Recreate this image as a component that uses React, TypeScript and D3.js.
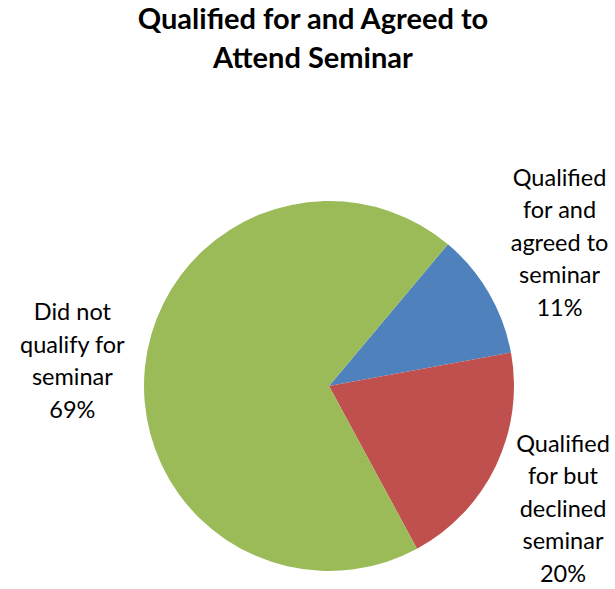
import React, { useRef, useEffect } from "react"
import * as d3 from "d3"

// chart values
const categories = [
  "Qualified for and agreed to seminar",
  "Qualified for but declined seminar",
  "Did not qualify for seminar",
]
const labelLines = [
  ["Qualified", "for and", "agreed to", "seminar"],
  ["Qualified", "for but", "declined", "seminar"],
  ["Did not", "qualify for", "seminar"],
]
const percents = [11, 20, 69]
const colors = ["#4F81BD", "#C0504D", "#9BBB59"]
const titleLines = ["Qualified for and Agreed to", "Attend Seminar"]

export default function App() {
  const svgRef = useRef<SVGSVGElement>(null)

  useEffect(() => {
    const cx = 329,
      cy = 386,
      radius = 185
    const labelRadius = 265
    const lineH = 32.5
    // small nudges of the best-fit labels
    const nudge = [[1.5, -10], [-5, 8], [7, 2]]

    const svg = d3.select(svgRef.current)
    svg.selectAll("*").remove()

    // title
    svg.append("g")
      .selectAll("text")
      .data(titleLines)
      .enter()
      .append("text")
      .attr("x", 313)
      .attr("y", (d, i) => 29 + i * 39)
      .attr("text-anchor", "middle")
      .attr("font-family", "Lato, 'Open Sans', sans-serif")
      .attr("font-weight", "bold")
      .attr("font-size", "29px")
      .attr("fill", "#000")
      .text(d => d)

    const data = categories.map((c, i) => ({ name: c, value: percents[i], i }))

    // excel starts the first slice at roughly 40 degrees
    const start = (40 / 180) * Math.PI
    const pie = d3.pie<any>()
      .value(d => d.value)
      .sort(null)
      .startAngle(start)
      .endAngle(start + 2 * Math.PI)

    const arc = d3.arc<any>().innerRadius(0).outerRadius(radius)
    const arcs = pie(data)

    const g = svg.append("g").attr("transform", "translate(" + cx + "," + cy + ")")

    g.selectAll("path")
      .data(arcs)
      .enter()
      .append("path")
      .attr("d", arc)
      .attr("fill", d => colors[d.data.i])

    // labels outside the pie
    arcs.forEach(a => {
      const mid = (a.startAngle + a.endAngle) / 2
      const lx = Math.sin(mid) * labelRadius + nudge[a.data.i][0]
      const ly = -Math.cos(mid) * labelRadius + nudge[a.data.i][1]
      const lines = labelLines[a.data.i].concat([a.data.value + "%"])
      const top = ly - ((lines.length - 1) * lineH) / 2 + 8
      const t = g.append("text")
        .attr("text-anchor", "middle")
        .attr("font-family", "Lato, 'Open Sans', sans-serif")
        .attr("font-size", "23.5px")
        .attr("fill", "#000")
      lines.forEach((ln, k) => {
        t.append("tspan")
          .attr("x", lx)
          .attr("y", top + k * lineH)
          .text(ln)
      })
    })
  }, [])

  return (
    <svg
      ref={svgRef}
      width={615}
      height={589}
      style={{ position: "absolute", left: 0, top: 0, background: "#fff" }}
    ></svg>
  )
}
